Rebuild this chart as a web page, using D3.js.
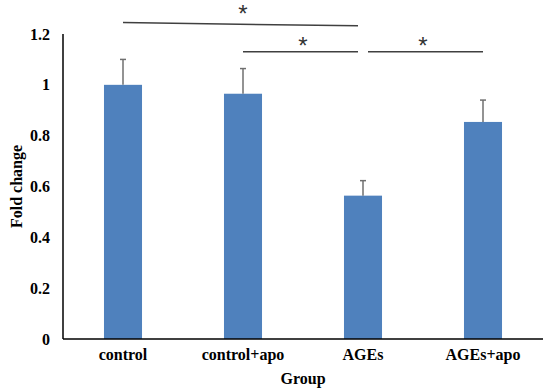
<!DOCTYPE html>
<html>
<head>
<meta charset="utf-8">
<script src="https://cdn.jsdelivr.net/npm/d3@7"></script>
<style>
  body { margin: 0; background: #fff; }
  .axis text { font-family: "Liberation Serif", "Times New Roman", serif; font-weight: bold; font-size: 16px; fill: #000; }
  .axis path { stroke: #000; stroke-width: 1.5px; }
</style>
</head>
<body>
<script>
const groups = ["control", "control+apo", "AGEs", "AGEs+apo"];
const means = [1.0, 0.965, 0.564, 0.854];
const errors = [0.10, 0.099, 0.059, 0.086];
const yTicks = [0, 0.2, 0.4, 0.6, 0.8, 1, 1.2];
// significance brackets: groups compared, bracket height at each end
const brackets = [
  { a: "control", b: "AGEs", y0: 1.245, y1: 1.232, star: 1.305 },
  { a: "control+apo", b: "AGEs", y0: 1.13, y1: 1.13, star: 1.18 },
  { a: "AGEs", b: "AGEs+apo", y0: 1.13, y1: 1.13, star: 1.18 }
];

var margin = {top: 34, right: 7, bottom: 52, left: 63}
  , width = 550 - margin.left - margin.right
  , height = 391 - margin.top - margin.bottom;

var svg = d3.select("body").append("svg")
    .attr("width", 550)
    .attr("height", 391)
  .append("g")
    .attr("transform", "translate(" + margin.left + "," + margin.top + ")");

var x = d3.scaleBand()
    .domain(groups)
    .range([0, width])
    .paddingInner(0.683)
    .paddingOuter(0.3415);

var y = d3.scaleLinear()
    .domain([0, 1.2])
    .range([height, 0]);

var data = groups.map(function(g, i) { return { g: g, m: means[i], e: errors[i] }; });

// bars
svg.selectAll(".bar")
    .data(data)
  .enter().append("rect")
    .attr("class", "bar")
    .attr("x", function(d) { return x(d.g); })
    .attr("y", function(d) { return y(d.m); })
    .attr("width", x.bandwidth())
    .attr("height", function(d) { return height - y(d.m); })
    .attr("fill", "#4f81bd");

// error bars (upper only)
var eb = svg.selectAll(".err")
    .data(data)
  .enter().append("g")
    .attr("class", "err")
    .attr("stroke", "#6f6f6f")
    .attr("stroke-width", 1.5);
eb.append("line")
    .attr("x1", function(d) { return x(d.g) + x.bandwidth() / 2; })
    .attr("x2", function(d) { return x(d.g) + x.bandwidth() / 2; })
    .attr("y1", function(d) { return y(d.m); })
    .attr("y2", function(d) { return y(d.m + d.e); });
eb.append("line")
    .attr("x1", function(d) { return x(d.g) + x.bandwidth() / 2 - 3; })
    .attr("x2", function(d) { return x(d.g) + x.bandwidth() / 2 + 3; })
    .attr("y1", function(d) { return y(d.m + d.e); })
    .attr("y2", function(d) { return y(d.m + d.e); });

// axes
svg.append("g")
    .attr("class", "x axis")
    .attr("transform", "translate(0," + height + ")")
    .call(d3.axisBottom(x).tickSize(0).tickPadding(10));

svg.append("g")
    .attr("class", "y axis")
    .call(d3.axisLeft(y).tickValues(yTicks).tickFormat(d3.format("~g")).tickSize(0).tickPadding(13));

svg.selectAll(".axis .domain").attr("d", function() {
  return d3.select(this.parentNode).classed("x") ? "M0,0H" + width : "M0," + height + "V0";
});

// significance brackets
function cx(g) { return x(g) + x.bandwidth() / 2; }
var gap = 5;
svg.selectAll(".sig")
    .data(brackets)
  .enter().append("line")
    .attr("class", "sig")
    .attr("x1", function(d) { return cx(d.a) + (d.a === "AGEs" ? gap : 0); })
    .attr("x2", function(d) { return cx(d.b) - (d.b === "AGEs" ? gap : 0); })
    .attr("y1", function(d) { return y(d.y0); })
    .attr("y2", function(d) { return y(d.y1); })
    .attr("stroke", "#404040")
    .attr("stroke-width", 1.5);

svg.selectAll(".star")
    .data(brackets)
  .enter().append("text")
    .attr("class", "star")
    .attr("x", function(d) { return (cx(d.a) + cx(d.b)) / 2; })
    .attr("y", function(d) { return y(d.star); })
    .attr("dy", "0.62em")
    .attr("text-anchor", "middle")
    .style("font-family", "Liberation Sans, Arial, sans-serif")
    .style("font-size", "24px")
    .style("fill", "#333")
    .text("*");

// axis titles
svg.append("text")
    .attr("transform", "translate(" + (22 - margin.left) + "," + (height / 2) + ") rotate(-90)")
    .attr("text-anchor", "middle")
    .style("font-family", "Liberation Serif, Times New Roman, serif")
    .style("font-weight", "bold")
    .style("font-size", "16px")
    .text("Fold change");

svg.append("text")
    .attr("x", width / 2)
    .attr("y", 384 - margin.top)
    .attr("text-anchor", "middle")
    .style("font-family", "Liberation Serif, Times New Roman, serif")
    .style("font-weight", "bold")
    .style("font-size", "16px")
    .text("Group");
</script>
</body>
</html>
